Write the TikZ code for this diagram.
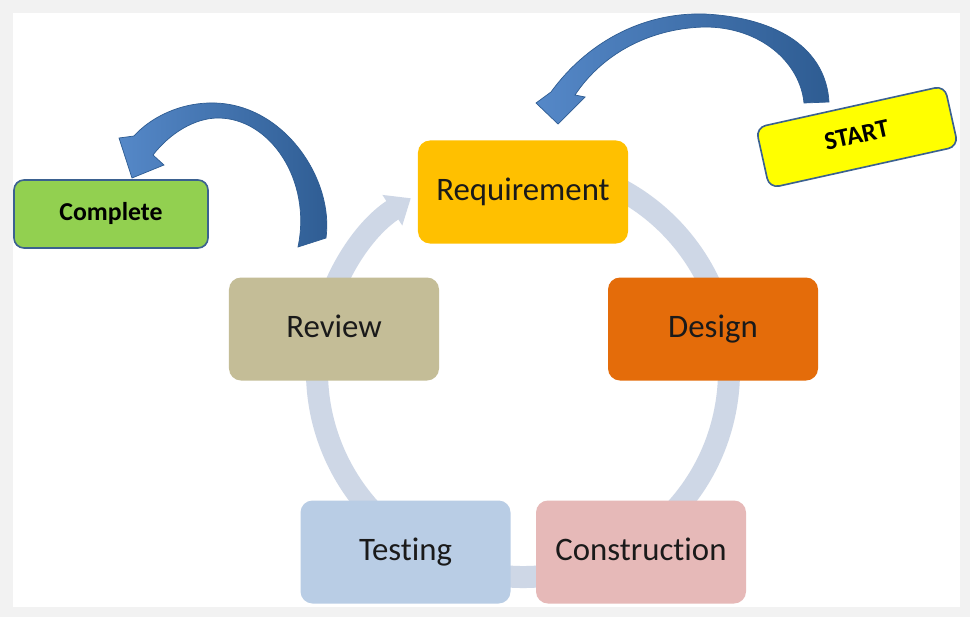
\documentclass[tikz,border=0pt]{standalone}
\usepackage{fontspec}
\setmainfont{Carlito}[Ligatures=NoCommon]
\usepackage{tikz}
\usetikzlibrary{arrows.meta,positioning,calc}

\definecolor{reqcol}{HTML}{FFC000}
\definecolor{descol}{HTML}{E46C0A}
\definecolor{concol}{HTML}{E6B9B8}
\definecolor{tstcol}{HTML}{B9CDE5}
\definecolor{revcol}{HTML}{C4BD97}
\definecolor{donecol}{HTML}{92D050}
\definecolor{startcol}{HTML}{FFFF00}
\definecolor{edgecol}{HTML}{3B6190}
\definecolor{ringcol}{HTML}{CED7E6}
\definecolor{arrlight}{HTML}{5588C8}
\definecolor{arrdark}{HTML}{2E5C92}
\definecolor{framecol}{HTML}{F2F2F2}
\definecolor{inkcol}{HTML}{1A1A1A}

\tikzset{
    %Define style for the cycle boxes
    stage/.style={
           rounded corners=0.36cm,
           minimum width=6.3cm,
           minimum height=3.09cm,
           text height=20pt,
           text depth=5.5pt,
           text=inkcol,
           text centered,
           font=\fontsize{28}{32}\selectfont},
    %Define style for start and end labels
    flag/.style={
           draw=edgecol,
           line width=1.4pt,
           rounded corners=0.3cm,
           text height=15.5pt,
           text depth=4.5pt,
           text centered,
           font=\fontsize{22}{26}\selectfont\bfseries},
    % Define ring style
    ring/.style={
           draw=ringcol,
           line width=0.66cm},
    % Define style for the big curved arrows
    bigarrow/.style={
           draw=arrdark,
           line width=0.6pt,
           left color=arrlight,
           right color=arrdark}
}

\begin{document}
\begin{tikzpicture}[x=0.03cm, y=0.03cm]
    % frame
    \useasboundingbox (0,0) rectangle (970,-617);
    \fill[framecol] (0,0) rectangle (970,-617);
    \fill[white] (13,-13) rectangle (960,-607);

    % ring behind the boxes
    \coordinate (hub) at (523,-371);
    \draw[ring, -{Triangle[width=1.05cm,length=0.66cm]}]
        ([shift={(80:206)}]hub) arc (80:-237:206);

    % cycle boxes
    \node[stage, fill=reqcol] (req) at (523,-192) {Requirement};
    \node[stage, fill=descol] (des) at (713,-329) {Design};
    \node[stage, fill=concol] (con) at (641,-552) {Construction};
    \node[stage, fill=tstcol, left=0.75cm of con] (tst) {Testing};
    \node[stage, fill=revcol] (rev) at (334,-329) {Review};

    % start and complete
    \node[flag, fill=startcol, minimum width=5.8cm, minimum height=1.86cm,
          rotate=12.5] (start) at (857,-137) {START};
    \node[flag, fill=donecol, minimum width=5.82cm,
          minimum height=2.04cm] (done) at (111,-214) {Complete};

    % start arrow
    \path[bigarrow] (829,-102) .. controls (826,-50) and (780,-18) .. (705,-14)
        .. controls (640,-12) and (585,-45) .. (551,-92)
        -- (536,-103) -- (558,-124) -- (585,-97) -- (575,-95)
        .. controls (605,-50) and (655,-28) .. (705,-27)
        .. controls (760,-27) and (800,-62) .. (804,-103) -- cycle;

    % complete arrow
    \path[bigarrow] (326,-238) .. controls (334,-180) and (285,-105) .. (215,-103)
        .. controls (180,-102) and (150,-118) .. (134,-136)
        -- (119,-138) -- (132,-178) -- (164,-165) -- (153,-155)
        .. controls (170,-133) and (195,-118) .. (218,-118)
        .. controls (270,-118) and (312,-180) .. (298,-247) -- cycle;
\end{tikzpicture}
\end{document}
